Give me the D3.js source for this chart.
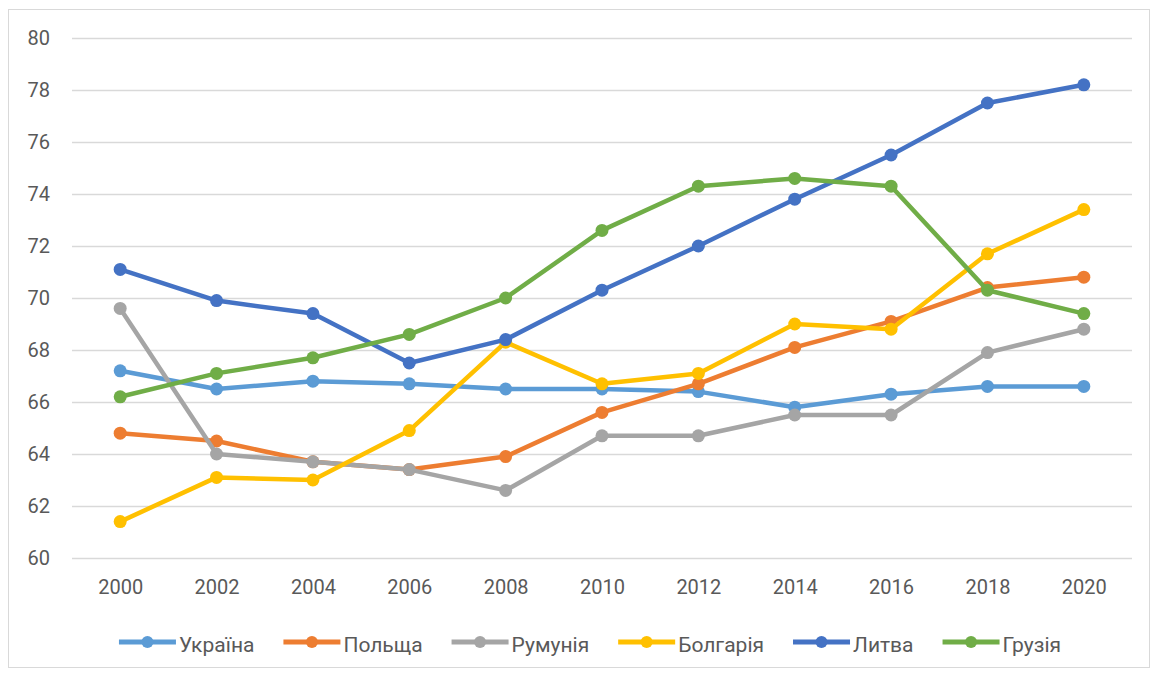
<!DOCTYPE html>
<html>
<head>
<meta charset="utf-8">
<script src="https://cdn.jsdelivr.net/npm/d3@7"></script>
<style>
  body { margin: 0; background: #fff; }
  svg text { font-family: Roboto, "Open Sans", sans-serif; fill: #595959; }
</style>
</head>
<body>
<svg width="1160" height="673"></svg>
<script>
// Роки (категорії осі X)
const years = ["2000", "2002", "2004", "2006", "2008", "2010", "2012", "2014", "2016", "2018", "2020"];

// Значення рядів
const ukraine  = [67.2, 66.5, 66.8, 66.7, 66.5, 66.5, 66.4, 65.8, 66.3, 66.6, 66.6];
const poland   = [64.8, 64.5, 63.7, 63.4, 63.9, 65.6, 66.7, 68.1, 69.1, 70.4, 70.8];
const romania  = [69.6, 64.0, 63.7, 63.4, 62.6, 64.7, 64.7, 65.5, 65.5, 67.9, 68.8];
const bulgaria = [61.4, 63.1, 63.0, 64.9, 68.3, 66.7, 67.1, 69.0, 68.8, 71.7, 73.4];
const lithuania = [71.1, 69.9, 69.4, 67.5, 68.4, 70.3, 72.0, 73.8, 75.5, 77.5, 78.2];
const georgia  = [66.2, 67.1, 67.7, 68.6, 70.0, 72.6, 74.3, 74.6, 74.3, 70.3, 69.4];

const seriesNames = ["Україна", "Польща", "Румунія", "Болгарія", "Литва", "Грузія"];
const seriesColors = ["#5B9BD5", "#ED7D31", "#A5A5A5", "#FFC000", "#4472C4", "#70AD47"];
const yTicks = [60, 62, 64, 66, 68, 70, 72, 74, 76, 78, 80];

const series = [ukraine, poland, romania, bulgaria, lithuania, georgia].map((vals, i) => ({
    name: seriesNames[i],
    color: seriesColors[i],
    values: vals
}));

const width = 1160, height = 673;
const margin = { top: 38, right: 28, bottom: 115, left: 72 };

const svg = d3.select("svg");

// Рамка області діаграми
svg.append("rect")
    .attr("x", 8.5).attr("y", 9.5)
    .attr("width", 1141).attr("height", 658)
    .attr("fill", "#fff")
    .attr("stroke", "#d9d9d9")
    .attr("stroke-width", 1);

const x = d3.scalePoint()
    .domain(years)
    .range([margin.left, width - margin.right])
    .padding(0.5);

const y = d3.scaleLinear()
    .domain([60, 80])
    .range([height - margin.bottom, margin.top]);

// Сітка
svg.append("g")
    .selectAll("line")
    .data(yTicks)
    .join("line")
    .attr("x1", margin.left)
    .attr("x2", width - margin.right)
    .attr("y1", d => Math.round(y(d)) + 0.5)
    .attr("y2", d => Math.round(y(d)) + 0.5)
    .attr("stroke", "#d9d9d9")
    .attr("stroke-width", 1.3);

// Вісь Y
const yAxis = svg.append("g")
    .attr("transform", `translate(${margin.left - 22},0)`)
    .call(d3.axisLeft(y).tickValues(yTicks).tickSize(0).tickPadding(0));
yAxis.select(".domain").remove();
yAxis.selectAll("text")
    .style("font-size", "20px")
    .attr("fill", "#595959");

// Вісь X
const xAxis = svg.append("g")
    .attr("transform", `translate(0,${height - margin.bottom + 22})`)
    .call(d3.axisBottom(x).tickSize(0).tickPadding(0));
xAxis.select(".domain").remove();
xAxis.selectAll("text")
    .style("font-size", "20px")
    .attr("fill", "#595959");

// Лінії
const line = d3.line()
    .x((d, i) => x(years[i]))
    .y(d => y(d));

const groups = svg.append("g")
    .selectAll("g")
    .data(series)
    .join("g");

groups.append("path")
    .attr("d", d => line(d.values))
    .attr("fill", "none")
    .attr("stroke", d => d.color)
    .attr("stroke-width", 4.5)
    .attr("stroke-linejoin", "round");

groups.selectAll("circle")
    .data(d => d.values.map((v, i) => ({ v, i, color: d.color })))
    .join("circle")
    .attr("cx", d => x(years[d.i]))
    .attr("cy", d => y(d.v))
    .attr("r", 6.5)
    .attr("fill", d => d.color);

// Легенда
const legend = svg.append("g");
const items = legend.selectAll("g")
    .data(series)
    .join("g");

items.append("line")
    .attr("x1", 0).attr("x2", 57)
    .attr("y1", 0).attr("y2", 0)
    .attr("stroke", d => d.color)
    .attr("stroke-width", 5);
items.append("circle")
    .attr("cx", 28.5).attr("cy", 0).attr("r", 6)
    .attr("fill", d => d.color);
items.append("text")
    .attr("x", 60)
    .attr("y", 3)
    .attr("dy", "0.35em")
    .style("font-size", "21px")
    .text(d => d.name);

let offset = 0;
items.each(function () {
    const w = this.getBBox().width;
    d3.select(this).attr("transform", `translate(${offset},0)`);
    offset += w + 29;
});
const totalW = offset - 29;
legend.attr("transform", `translate(${590 - totalW / 2},642)`);
</script>
</body>
</html>
